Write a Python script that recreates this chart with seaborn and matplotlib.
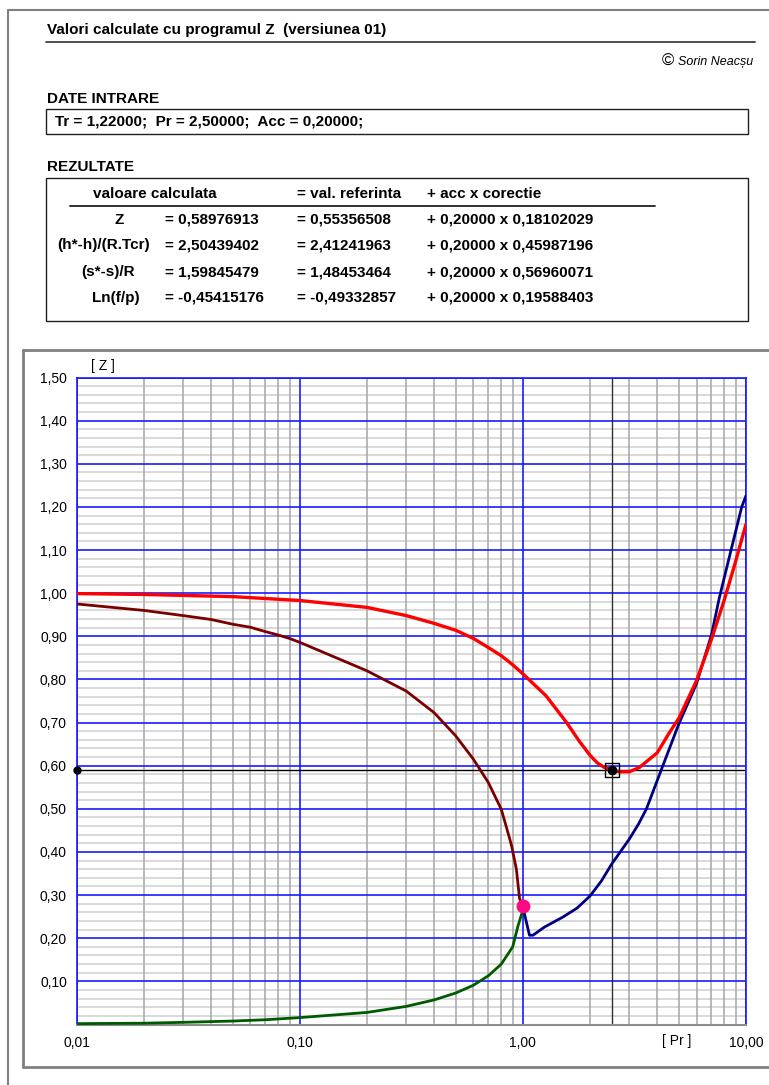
import numpy as np
import pandas as pd
import matplotlib
matplotlib.use("Agg")
import matplotlib.pyplot as plt
import seaborn as sns
from matplotlib.patches import Rectangle
from matplotlib.lines import Line2D

# ---------------- data ----------------
title_text = "Valori calculate cu programul Z  (versiunea 01)"
author_text = "Sorin Neacșu"
input_text = "Tr = 1,22000;  Pr = 2,50000;  Acc = 0,20000;"

table_header = ["valoare calculata", "= val. referinta", "+ acc x corectie"]
row_labels = ["Z", "(h*-h)/(R.Tcr)", "(s*-s)/R", "Ln(f/p)"]
val_calc = ["= 0,58976913", "= 2,50439402", "= 1,59845479", "= -0,45415176"]
val_ref = ["= 0,55356508", "= 2,41241963", "= 1,48453464", "= -0,49332857"]
val_corr = ["+ 0,20000 x 0,18102029", "+ 0,20000 x 0,45987196",
            "+ 0,20000 x 0,56960071", "+ 0,20000 x 0,19588403"]

pr_input = 2.50
z_calc = 0.58976913
crit_pr = 1.0
crit_z = 0.274

# isotherm Tr = 1.22 (red)
pr_red = [0.01, 0.02, 0.05, 0.1, 0.2, 0.3, 0.4, 0.5, 0.6, 0.7, 0.8, 0.9, 1.0,
          1.27, 1.57, 1.8, 2.0, 2.15, 2.3, 2.5, 2.7, 3.0, 3.33, 4.0, 4.54,
          5.0, 6.0, 7.0, 8.0, 9.0, 10.0]
z_red = [0.999, 0.997, 0.992, 0.983, 0.967, 0.948, 0.930, 0.914, 0.895,
         0.874, 0.855, 0.834, 0.813, 0.762, 0.700, 0.655, 0.624, 0.607,
         0.597, 0.590, 0.586, 0.586, 0.596, 0.630, 0.677, 0.710, 0.797,
         0.893, 0.985, 1.075, 1.160]

# saturated vapour (dark red)
pr_vap = [0.01, 0.02, 0.03, 0.04, 0.05, 0.06, 0.07, 0.08, 0.09, 0.1, 0.2,
          0.3, 0.4, 0.5, 0.6, 0.7, 0.8, 0.87, 0.89, 0.935, 0.966, 1.0]
z_vap = [0.975, 0.960, 0.948, 0.939, 0.928, 0.921, 0.911, 0.903, 0.895,
         0.886, 0.820, 0.773, 0.723, 0.669, 0.615, 0.561, 0.499, 0.433,
         0.414, 0.360, 0.292, 0.274]

# saturated liquid (green)
pr_liq = [0.01, 0.02, 0.03, 0.05, 0.07, 0.1, 0.2, 0.3, 0.4, 0.5, 0.6, 0.7,
          0.8, 0.9, 0.95, 0.99, 1.0]
z_liq = [0.002, 0.003, 0.005, 0.008, 0.011, 0.016, 0.028, 0.042, 0.057,
         0.073, 0.091, 0.113, 0.140, 0.180, 0.228, 0.258, 0.274]

# critical isotherm (navy)
pr_crit = [1.0, 1.07, 1.11, 1.25, 1.51, 1.75, 2.0, 2.25, 2.5, 3.0, 3.3, 3.58,
           4.24, 5.0, 6.0, 7.0, 7.6, 8.57, 9.57, 10.0]
z_crit = [0.272, 0.207, 0.207, 0.226, 0.249, 0.270, 0.298, 0.333, 0.372,
          0.430, 0.465, 0.500, 0.600, 0.697, 0.790, 0.903, 0.990, 1.100,
          1.200, 1.226]

x_major = [0.01, 0.1, 1.0, 10.0]
x_labels = ["0,01", "0,10", "1,00", "10,00"]
y_major = [round(0.1 * i, 2) for i in range(1, 16)]
y_labels = [f"{v:.2f}".replace(".", ",") for v in y_major]

# ---------------- style ----------------
sns.set_style("white")
plt.rcParams['font.family'] = ['Liberation Sans', 'DejaVu Sans']

W, H = 769, 1085
fig = plt.figure(figsize=(W / 100, H / 100), dpi=100)


def fx(x):
    return x / W


def fy(y):
    return 1 - y / H


def hline(x0, x1, y, color, lw):
    fig.add_artist(Line2D([fx(x0), fx(x1)], [fy(y), fy(y)],
                          transform=fig.transFigure, color=color, lw=lw))


def vline(x, y0, y1, color, lw):
    fig.add_artist(Line2D([fx(x), fx(x)], [fy(y0), fy(y1)],
                          transform=fig.transFigure, color=color, lw=lw))


def box(x0, y0, x1, y1, color, lw):
    fig.add_artist(Rectangle((fx(x0), fy(y1)), fx(x1) - fx(x0), fy(y0) - fy(y1),
                             transform=fig.transFigure, fill=False,
                             edgecolor=color, lw=lw))


def txt(x, y, s, ha="left", size=11, weight="bold", style="normal"):
    fig.text(fx(x), fy(y), s, ha=ha, va="center", fontsize=size,
             fontweight=weight, fontstyle=style, color="black")


# outer frame
vline(8, 10, 1085, "#808080", 1.5)
hline(8, 769, 10, "#808080", 1.5)

# header
txt(47, 30, title_text)
hline(46, 755, 42, "#404040", 1.3)
txt(668, 61, "©", ha="center", size=12, weight="normal")
txt(678, 62, author_text, ha="left", size=9, weight="normal", style="italic")

txt(47, 99, "DATE INTRARE")
box(46, 109, 748, 134, "#202020", 1.0)
txt(55, 121, input_text)

txt(47, 167, "REZULTATE")
box(46, 178, 748, 321, "#202020", 1.0)
txt(93, 194, table_header[0])
txt(297, 194, table_header[1])
txt(427, 194, table_header[2])
hline(70, 655, 206, "#202020", 1.3)
row_y = [220, 245, 272, 298]
label_cx = [119, 104, 108, 116]
for i in range(4):
    txt(label_cx[i], row_y[i], row_labels[i], ha="center")
    txt(165, row_y[i], val_calc[i])
    txt(297, row_y[i], val_ref[i])
    txt(427, row_y[i], val_corr[i])

# chart panel frame
hline(23, 769, 350, "#808080", 2.0)
vline(23, 350, 1067, "#808080", 2.0)
hline(23, 769, 1067, "#808080", 2.0)

# ---------------- chart ----------------
ax = fig.add_axes([fx(76.7), fy(1024.5), fx(746) - fx(76.7), (1024.5 - 377.5) / H])
ax.set_xscale("log")
ax.set_xlim(0.01, 10)
ax.set_ylim(0, 1.5)

# grid
y_minor = [round(0.02 * i, 2) for i in range(1, 75) if (i % 5) != 0]
x_minor = [m * d for d in (0.01, 0.1, 1.0) for m in range(2, 10)]
for v in y_minor:
    ax.axhline(v, color="#cfcfcf", lw=1.1, zorder=0.5)
for v in x_minor:
    ax.axvline(v, color="#a6a6a6", lw=1.1, zorder=0.6)
for v in y_major:
    ax.axhline(v, color="#1a1aff", lw=1.2, zorder=0.8)
for v in x_major:
    ax.axvline(v, color="#1a1aff", lw=1.2, zorder=0.8)

ax.axhline(z_calc, color="black", lw=1.0, zorder=1)
ax.axvline(pr_input, color="#303030", lw=1.0, zorder=1)

curves = [
    (pr_liq, z_liq, "#005a00", 2.0),
    (pr_vap, z_vap, "#7a0000", 2.0),
    (pr_crit, z_crit, "#000080", 2.0),
    (pr_red, z_red, "#ff0000", 2.4),
]
for xs, ys, col, lw in curves:
    df = pd.DataFrame({"Pr": xs, "Z": ys})
    sns.lineplot(data=df, x="Pr", y="Z", ax=ax, color=col, lw=lw,
                 sort=False, estimator=None, legend=False, zorder=3)

ax.plot([crit_pr], [crit_z], "o", color="#ff0a84", ms=9, zorder=6)
ax.plot([pr_input], [z_calc], "s", mfc="none", mec="black", mew=1.0, ms=10, zorder=6)
ax.plot([pr_input], [z_calc], "o", color="black", ms=6, zorder=7)
ax.plot([0.01], [z_calc], "o", color="black", ms=5, zorder=7, clip_on=False)

ax.set_xticks(x_major)
ax.set_xticklabels(x_labels)
ax.xaxis.set_minor_locator(matplotlib.ticker.NullLocator())
ax.set_yticks(y_major)
ax.set_yticklabels(y_labels)
ax.tick_params(axis="both", length=0, labelsize=10, colors="black")
ax.tick_params(axis="y", pad=7)
ax.tick_params(axis="x", pad=8)
ax.set_xlabel("")
ax.set_ylabel("")

for side in ("left", "top", "right"):
    ax.spines[side].set_color("#1a1aff")
    ax.spines[side].set_linewidth(1.2)
ax.spines["bottom"].set_color("#8c8c8c")
ax.spines["bottom"].set_linewidth(1.5)

txt(103, 366, "[ Z ]", ha="center", size=10, weight="normal")
txt(677, 1041, "[ Pr ]", ha="center", size=10, weight="normal")

fig.savefig("out.png", dpi=100)
